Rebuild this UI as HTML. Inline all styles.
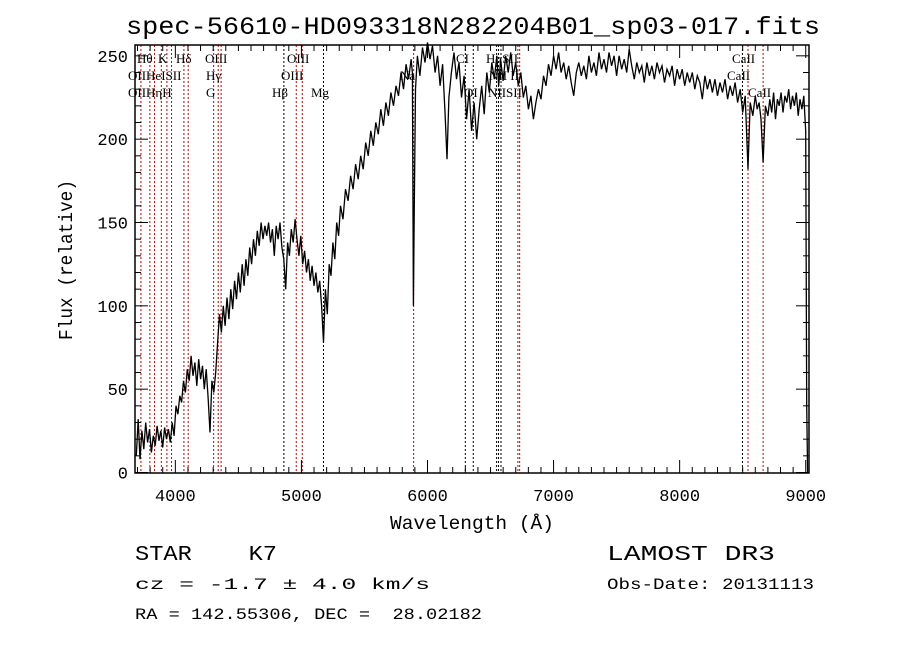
<!DOCTYPE html>
<html><head><meta charset="utf-8">
<style>
html,body{margin:0;padding:0;background:#fff;}
svg{display:block;}
.mono{font-family:"Liberation Mono",monospace;}
.serif{font-family:"Liberation Serif",serif;}
text{white-space:pre;}
</style></head>
<body>
<svg id="chart" width="900" height="649" viewBox="0 0 900 649" xmlns="http://www.w3.org/2000/svg" xml:space="preserve">
<rect x="0" y="0" width="900" height="649" fill="#fff"/>
<text class="mono" x="126" y="34" font-size="25" textLength="694" lengthAdjust="spacingAndGlyphs">spec-56610-HD093318N282204B01_sp03-017.fits</text>
<g id="lines"></g>
<g id="spec"></g>
<g id="axes"></g>
<g id="labels" class="serif" font-size="13"></g>
<text class="mono" x="390" y="529" font-size="19" textLength="164" lengthAdjust="spacingAndGlyphs">Wavelength (Å)</text>
<text class="mono" font-size="19" transform="translate(72,340) rotate(-90)" textLength="160" lengthAdjust="spacingAndGlyphs">Flux (relative)</text>
<text class="mono" x="135" y="560" font-size="21" textLength="142" lengthAdjust="spacingAndGlyphs">STAR    K7</text>
<text class="mono" x="607" y="560" font-size="21" textLength="168" lengthAdjust="spacingAndGlyphs">LAMOST DR3</text>
<text class="mono" x="135" y="589" font-size="16" textLength="295" lengthAdjust="spacingAndGlyphs">cz = -1.7 ± 4.0 km/s</text>
<text class="mono" x="607" y="589" font-size="16" textLength="207" lengthAdjust="spacingAndGlyphs">Obs-Date: 20131113</text>
<text class="mono" x="135" y="619" font-size="16" textLength="347" lengthAdjust="spacingAndGlyphs">RA = 142.55306, DEC =  28.02182</text>
</svg>
<script>
const wave = [3690,3705,3720,3735,3750,3765,3780,3795,3810,3825,3840,3855,3870,3885,3900,3915,3930,3945,3960,3975,3990,
4005,4020,4035,4050,4065,4080,4095,4110,4125,4140,4155,4170,4185,4200,4215,4230,4245,4260,4275,4290,4305,4320,4335,4350,
4365,4380,4395,4410,4425,4440,4455,4470,4485,4500,4515,4530,4545,4560,4575,4590,4605,4620,4635,4650,4665,4680,4695,4710,4725,4740,4755,4770,4785,4800,4815,4830,4845,4860,4875,4890,4905,4920,4935,4950,4965,4980,4995,5010,5025,5040,5055,5070,5085,5100,5115,5130,5145,5160,5175,5190,5205,5220,5235,5250,5265,5280,5295,5310,5330,5350,5370,5390,5410,5430,5450,5470,5490,5510,5530,5550,5570,5590,5610,5630,5650,5670,5690,5710,5730,5750,5770,5790,5810,5830,5850,5870,5880,5888,5895,5905,5920,5940,5960,5980,6000,6020,6040,6060,6080,6100,6120,6140,6155,6170,6190,6210,6230,6250,6270,6290,6310,6330,6350,6370,6390,6410,6430,6450,6470,6490,6510,6530,6550,6565,6580,6600,6620,6640,6660,6680,6700,6720,6740,6760,6780,6800,6820,6840,6860,6880,6900,6920,6940,6960,6980,7000,7020,7040,7060,7080,7100,7120,7140,7160,7180,
7200,7220,7240,7260,7280,7300,7320,7340,7360,7380,7400,7420,7440,7460,7480,7500,7520,7540,7560,7580,7600,7620,7640,7660,7680,7700,7720,7740,7760,7780,7800,7820,7840,7860,7880,7900,7920,7940,7960,7980,8000,8020,8040,8060,8080,8100,8120,8140,8160,8180,8200,8220,8240,8260,8280,8300,8320,8340,8360,8380,8400,8420,8440,8460,8480,
8500,8520,8542,8560,8580,8600,8615,8630,8645,8662,8680,8700,8715,8730,8745,8760,8775,8790,8805,8820,8835,8850,8865,8880,8895,8910,8925,8940,8955,8970,8985,9000,9008,9015];
const flux = [10,32,8,25,14,30,18,26,12,22,16,28,19,25,15,27,20,26,18,30,22,
40,35,46,42,55,48,62,55,70,58,66,52,68,56,64,50,62,45,24,55,48,60,78,95,
84,100,88,105,92,110,98,115,104,120,108,125,112,128,118,135,125,140,130,145,136,150,140,148,142,150,138,146,130,148,140,150,135,128,110,138,130,146,138,152,140,130,142,125,133,120,128,115,124,112,120,108,115,100,78,110,95,125,118,138,128,150,142,160,152,170,163,178,170,185,176,190,182,198,190,205,196,210,203,218,208,222,214,228,220,232,226,240,230,245,236,248,240,100,160,230,250,238,255,246,258,248,256,240,250,232,245,215,188,225,240,252,236,246,225,238,212,230,205,222,200,218,232,215,240,228,246,236,250,232,248,235,250,240,252,238,246,232,240,225,232,218,226,212,222,230,224,238,232,245,238,250,242,252,240,246,236,244,234,226,240,
246,238,244,236,250,240,246,238,252,242,248,240,252,244,250,238,250,242,248,240,254,244,236,246,240,244,234,246,238,244,236,246,240,244,234,242,238,244,232,242,236,242,232,240,234,240,230,238,234,224,238,230,236,228,236,226,234,228,236,224,232,226,234,222,230,
216,226,182,222,214,226,218,222,212,186,220,214,224,216,228,212,224,220,228,216,226,222,230,218,226,220,228,214,224,218,226,205,40,0];
const lineWaves = [3727,3798,3835,3889,3933,3970,4068,4102,4304,4340,4363,4861,4959,5007,5175,5890,6300,6363,6548,6563,6583,6717,6731,8498,8542,8662];
const lineColors = ["r","r","r","r","r","r","r","r","r","r","r","k","r","r","k","r","k","k","k","k","k","r","r","k","r","r"];
const xTicks = [4000,5000,6000,7000,8000,9000];
const yTicks = [0,50,100,150,200,250];

const X0=135,X1=809,Y0=45,Y1=473, WMIN=3680, WMAX=9026, FMIN=-0.3, FMAX=256.5;
const NS="http://www.w3.org/2000/svg";
function xs(w){return X0+(w-WMIN)/(WMAX-WMIN)*(X1-X0);}
function ys(f){return Y1-(f-FMIN)/(FMAX-FMIN)*(Y1-Y0);}
function mk(tag,attrs,parent){const e=document.createElementNS(NS,tag);for(const k in attrs)e.setAttribute(k,attrs[k]);parent.appendChild(e);return e;}

const gl=document.getElementById('lines');
lineWaves.forEach((w,i)=>{
  const l=mk('line',{x1:xs(w),x2:xs(w),y1:Y0,y2:Y1,stroke:lineColors[i]==='r'?'#c00000':'#000','stroke-width':1,'stroke-dasharray':'2,2'},gl);
  
  
});

const gs=document.getElementById('spec');
let d='';
wave.forEach((w,i)=>{d+=(i?'L':'M')+xs(w).toFixed(1)+','+ys(flux[i]).toFixed(1);});
const p=mk('path',{d:d,fill:'none',stroke:'#000','stroke-width':1.3,'stroke-linejoin':'miter'},gs);



const ga=document.getElementById('axes');
const fr=mk('rect',{x:X0,y:Y0,width:X1-X0,height:Y1-Y0,fill:'none',stroke:'#000','stroke-width':1.5},ga);


for(let w=3700;w<=WMAX;w+=100){
  const maj=w%1000===0, L=maj?13:6, x=xs(w);
  mk('line',{x1:x,x2:x,y1:Y1,y2:Y1-L,stroke:'#000','stroke-width':1},ga);
  mk('line',{x1:x,x2:x,y1:Y0,y2:Y0+L,stroke:'#000','stroke-width':1},ga);
}
for(let f=0;f<=FMAX;f+=10){
  const maj=f%50===0, L=maj?13:6, y=ys(f);
  mk('line',{x1:X0,x2:X0+L,y1:y,y2:y,stroke:'#000','stroke-width':1},ga);
  mk('line',{x1:X1,x2:X1-L,y1:y,y2:y,stroke:'#000','stroke-width':1},ga);
}
xTicks.forEach(w=>{
  const t=mk('text',{x:xs(w),y:501,'text-anchor':'middle','font-size':17,class:'mono'},ga);
  t.textContent=String(w);
  
  
});
yTicks.forEach(f=>{
  const t=mk('text',{x:128,y:ys(f)+6,'text-anchor':'end','font-size':17,class:'mono'},ga);
  t.textContent=String(f);
  
  
});

const labs=[["Hθ",137,63],["K",158,63],["Hδ",176,63],["OIII",205,63],["OIII",287,63],["CI",456,63],["HαSII",486,63],["CaII",732,63],
["OIIHeISII",128,80],["Hγ",206,80],["OIII",281,80],["Na",400,80],["NII II",489,80],["CaII",727,80],
["OIIHηH",128,97],["G",206,97],["Hβ",272,97],["Mg",311,97],["OI",464,97],["NIISII",488,97],["CaII",748,97]];
const glab=document.getElementById('labels');
labs.forEach(a=>{
  const t=mk('text',{x:a[1],y:a[2]},glab);
  t.textContent=a[0];
  
  
});
</script>
</body></html>
